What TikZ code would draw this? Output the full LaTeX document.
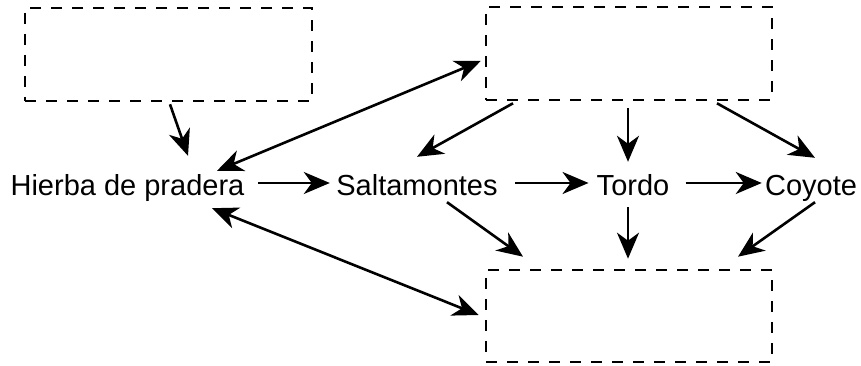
\documentclass[tikz,border=0pt]{standalone}
\usepackage{fontspec}
\setmainfont{Liberation Sans}
\usetikzlibrary{arrows.meta}
\begin{document}
\begin{tikzpicture}[x=1pt, y=1pt]
    \tikzstyle{emptybox} = [draw, rectangle, dashed, dash pattern=on 11pt off 10pt, line width=2.6pt, inner sep=0pt]
    \tikzstyle{organism} = [inner sep=0pt, anchor=base, text height=26pt, text depth=0pt, font=\fontsize{29}{34}\selectfont]
    \tikzstyle{link} = [line width=2.6pt, -{Stealth[length=26pt, width=22pt, inset=8pt]}]
    \tikzstyle{bothlink} = [line width=2.6pt, {Stealth[length=26pt, width=22pt, inset=8pt]}-{Stealth[length=26pt, width=22pt, inset=8pt]}]

    \useasboundingbox (0,0) rectangle (861,366);

    \node[emptybox, minimum width=287pt, minimum height=93pt] (sun) at (168.5,311.5) {};
    \node[emptybox, minimum width=286pt, minimum height=93pt] (top) at (629,312.5) {};
    \node[emptybox, minimum width=286pt, minimum height=92pt] (bottom) at (629,50) {};

    \node[organism] (hierba) at (127.5,170) {Hierba de pradera};
    \node[organism] (salta) at (417,170) {Saltamontes};
    \node[organism] (tordo) at (633,170) {Tordo};
    \node[organism] (coyote) at (811,170) {Coyote};

    \draw[link] ([xshift=1.5pt, yshift=-2pt]sun.south) -- ([xshift=60.5pt, yshift=14pt]hierba.north);
    \draw[bothlink] ([xshift=89.5pt, yshift=-1pt]hierba.north) -- ([xshift=-4pt, yshift=-7.5pt]top.west);
    \draw[bothlink] ([xshift=84.5pt, yshift=-12pt]hierba.south) -- ([xshift=-6pt, yshift=1pt]bottom.west);

    \draw[link] ([xshift=13.6pt]hierba.east) -- ([xshift=-6.4pt]salta.west);
    \draw[link] ([xshift=17.4pt]salta.east) -- ([xshift=-8pt]tordo.west);
    \draw[link] ([xshift=16.1pt]tordo.east) -- ([xshift=-3.1pt]coyote.west);

    \draw[link] ([xshift=-116pt, yshift=-2pt]top.south) -- ([yshift=13pt]salta.north);
    \draw[link] ([xshift=-1pt, yshift=-7pt]top.south) -- ([xshift=-5pt, yshift=8pt]tordo.north);
    \draw[link] ([xshift=88pt, yshift=-2pt]top.south) -- ([xshift=4pt, yshift=12pt]coyote.north);

    \draw[link] ([xshift=30pt, yshift=-6pt]salta.south) -- ([xshift=-106pt, yshift=12pt]bottom.north);
    \draw[link] ([xshift=-5pt, yshift=-11pt]tordo.south) -- ([xshift=-1pt, yshift=10pt]bottom.north);
    \draw[link] ([xshift=4pt, yshift=-6pt]coyote.south) -- ([xshift=109pt, yshift=12pt]bottom.north);
\end{tikzpicture}
\end{document}
